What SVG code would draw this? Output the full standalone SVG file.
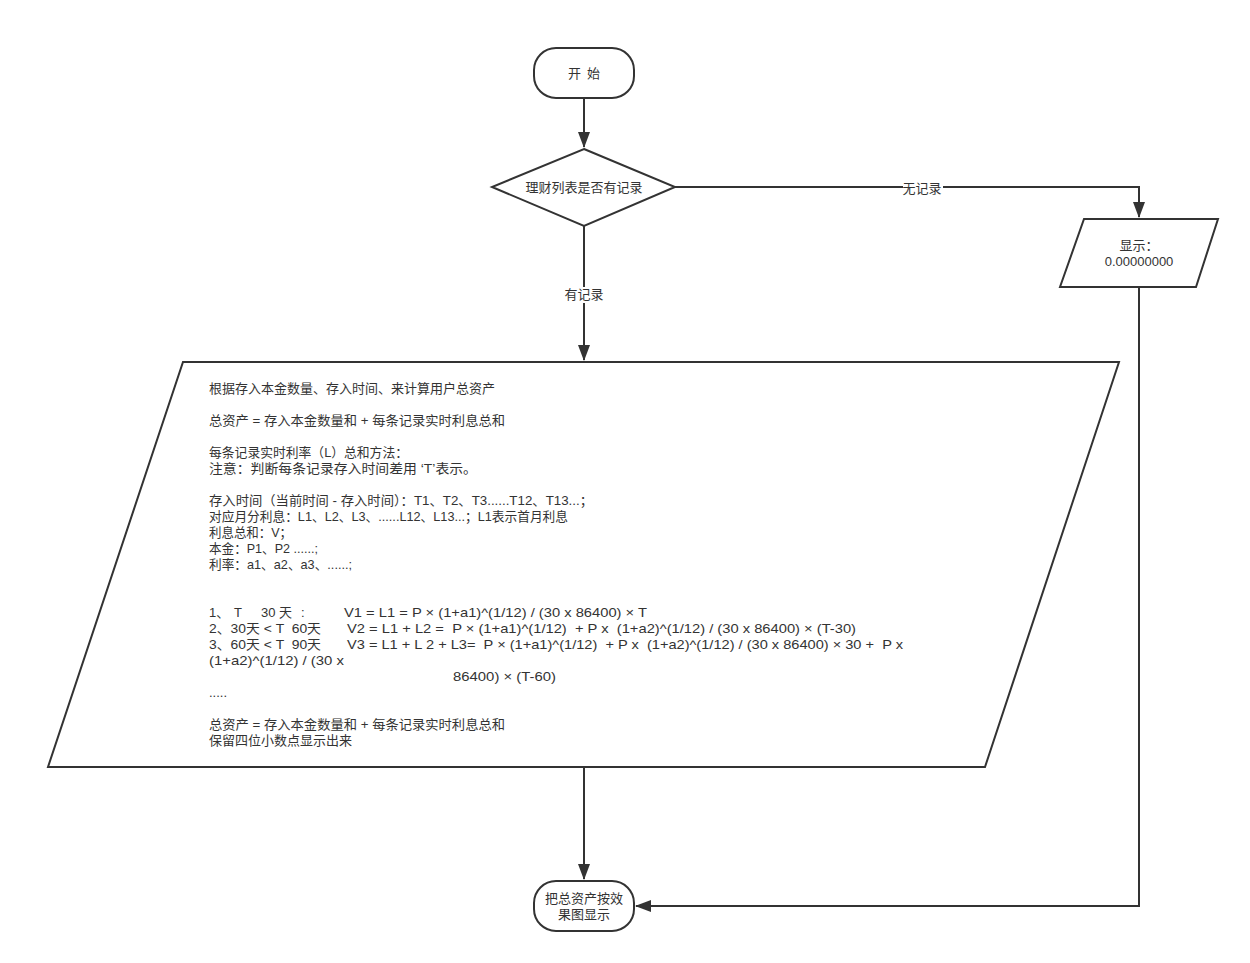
<svg xmlns="http://www.w3.org/2000/svg" width="1250" height="963" viewBox="0 0 1250 963">
<style>
.s{fill:#fff;stroke:#333;stroke-width:2}
.c{fill:none;stroke:#333;stroke-width:2}
text{font-family:"Noto Sans CJK SC","Liberation Sans",sans-serif;font-size:13px;fill:#333;white-space:pre}
.t{font-family:"Liberation Sans","Noto Sans CJK SC",sans-serif}
.m{text-anchor:middle}
</style>
<defs>
<marker id="b" markerWidth="16" markerHeight="12" refX="15" refY="6" orient="auto" markerUnits="userSpaceOnUse" viewBox="0 0 16 12">
<path d="M0,0 L16,6 L0,12 Z" fill="#333"/>
</marker>
</defs>
<rect width="1250" height="963" fill="#fff"/>
<g id="connectors">
<path class="c" d="M584,98 V147" marker-end="url(#b)"/>
<path class="c" d="M675,187 H1139 V217" marker-end="url(#b)"/>
<path class="c" d="M584,226 V360" marker-end="url(#b)"/>
<path class="c" d="M584,767 V879" marker-end="url(#b)"/>
<path class="c" d="M1139,287 V906 H636" marker-end="url(#b)"/>
<rect x="903" y="180" width="40" height="16" fill="#fff"/>
<text class="m" x="922" y="193">无记录</text>
<rect x="563" y="287" width="42" height="16" fill="#fff"/>
<text class="m" x="584" y="299">有记录</text>
</g>
<g id="start">
<rect class="s" x="534" y="48" width="100" height="50" rx="22"/>
<text class="m" x="584" y="78">开  始</text>
</g>
<g id="decision">
<polygon class="s" points="584,149 675,187 584,226 492,187"/>
<text class="m" x="584" y="192">理财列表是否有记录</text>
</g>
<g id="display">
<polygon class="s" points="1084,219 1218,219 1196,287 1060,287"/>
<text class="m t" x="1139" y="250">显示：</text>
<text class="m t" x="1139" y="266">0.00000000</text>
</g>
<g id="calc">
<polygon class="s" points="183,362 1119,362 985,767 48,767"/>
<text class="t" x="209" y="393" textLength="286" lengthAdjust="spacingAndGlyphs">根据存入本金数量、存入时间、来计算用户总资产</text>
<text class="t" x="209" y="425" textLength="296" lengthAdjust="spacingAndGlyphs">总资产 = 存入本金数量和 + 每条记录实时利息总和</text>
<text class="t" x="209" y="457" textLength="199" lengthAdjust="spacingAndGlyphs">每条记录实时利率（L）总和方法：</text>
<text class="t" x="209" y="473" textLength="268" lengthAdjust="spacingAndGlyphs">注意：判断每条记录存入时间差用 ‘T’表示。</text>
<text class="t" x="209" y="505" textLength="384" lengthAdjust="spacingAndGlyphs">存入时间（当前时间 - 存入时间）：T1、T2、T3......T12、T13...；</text>
<text class="t" x="209" y="521" textLength="359" lengthAdjust="spacingAndGlyphs">对应月分利息：L1、L2、L3、......L12、L13...；L1表示首月利息</text>
<text class="t" x="209" y="537" textLength="83" lengthAdjust="spacingAndGlyphs">利息总和：V；</text>
<text class="t" x="209" y="553" textLength="109" lengthAdjust="spacingAndGlyphs">本金：P1、P2 ......;</text>
<text class="t" x="209" y="569" textLength="143" lengthAdjust="spacingAndGlyphs">利率：a1、a2、a3、......;</text>
<text class="t" x="209" y="617">1、<tspan x="234">T</tspan><tspan x="261">30 天</tspan><tspan x="301">:</tspan><tspan x="344" textLength="303" lengthAdjust="spacingAndGlyphs">V1 = L1 = P × (1+a1)^(1/12) / (30 x 86400) × T</tspan></text>
<text class="t" x="209" y="633"><tspan textLength="112" lengthAdjust="spacingAndGlyphs">2、30天 &lt; T  60天</tspan><tspan x="347" textLength="509" lengthAdjust="spacingAndGlyphs">V2 = L1 + L2 =  P × (1+a1)^(1/12)  + P x  (1+a2)^(1/12) / (30 x 86400) × (T-30)</tspan></text>
<text class="t" x="209" y="649"><tspan textLength="112" lengthAdjust="spacingAndGlyphs">3、60天 &lt; T  90天</tspan><tspan x="347" textLength="556" lengthAdjust="spacingAndGlyphs">V3 = L1 + L 2 + L3=  P × (1+a1)^(1/12)  + P x  (1+a2)^(1/12) / (30 x 86400) × 30 +  P x</tspan></text>
<text class="t" x="209" y="665" textLength="135" lengthAdjust="spacingAndGlyphs">(1+a2)^(1/12) / (30 x</text>
<text class="t" x="453" y="681" textLength="103" lengthAdjust="spacingAndGlyphs">86400) × (T-60)</text>
<text class="t" x="209" y="697">.....</text>
<text class="t" x="209" y="729" textLength="296" lengthAdjust="spacingAndGlyphs">总资产 = 存入本金数量和 + 每条记录实时利息总和</text>
<text class="t" x="209" y="745" textLength="143" lengthAdjust="spacingAndGlyphs">保留四位小数点显示出来</text>
</g>
<g id="end">
<rect class="s" x="534" y="881" width="100" height="50" rx="22"/>
<text class="m t" x="584" y="903">把总资产按效</text>
<text class="m t" x="584" y="919">果图显示</text>
</g>
</svg>
